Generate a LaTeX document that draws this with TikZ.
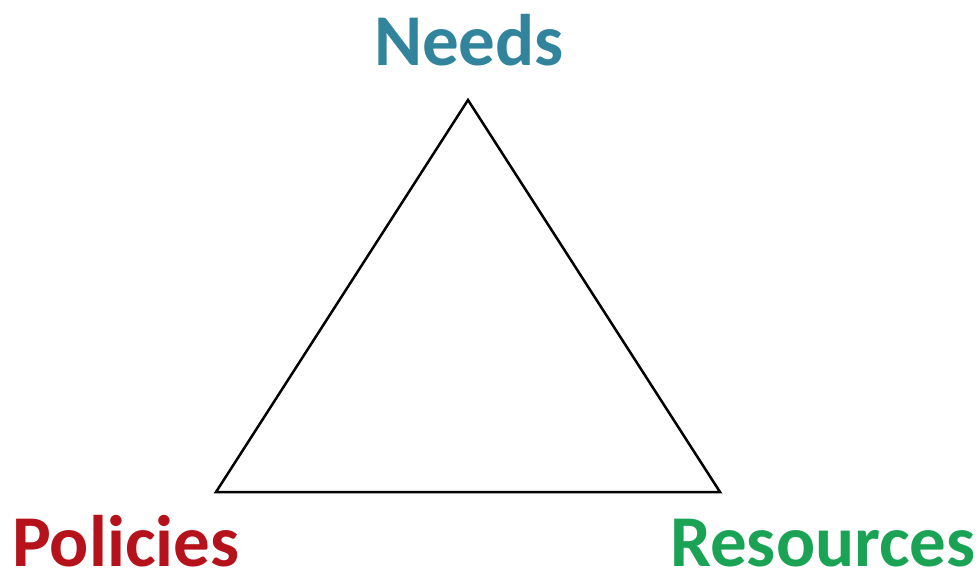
\documentclass[tikz,border=0pt]{standalone}
\usepackage{fontspec}
\setmainfont{Carlito}
\usepackage{tikz}
\usetikzlibrary{positioning}
\definecolor{needscol}{HTML}{31849B}
\definecolor{policol}{HTML}{B5121B}
\definecolor{rescol}{HTML}{1BA355}

\begin{document}
\begin{tikzpicture}[x=1pt,y=-1pt,
  corner/.style={font=\fontsize{73}{75}\selectfont\bfseries,anchor=base,inner sep=0pt,text depth=0pt}]
  \useasboundingbox (0,0) rectangle (980,571);
  % vertices of the triangle
  \coordinate (top) at (468,100);
  \coordinate (left) at (216,492);
  \coordinate (right) at (720,492);
  \draw[line width=2.5pt,line join=miter] (top) -- (left) -- (right) -- cycle;
  % labels
  \node[corner,needscol] (needs) at (469,65) {Needs};
  \node[corner,policol,anchor=base west] (policies) at (12,566) {Policies};
  \node[corner,rescol,anchor=base east] (resources) at (976,566) {Resources};
\end{tikzpicture}
\end{document}
